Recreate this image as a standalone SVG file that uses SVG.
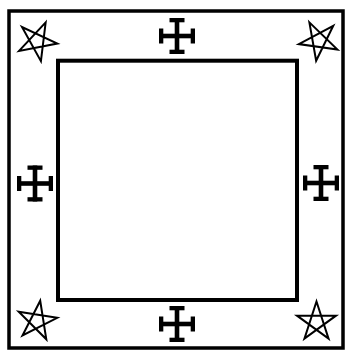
<svg xmlns="http://www.w3.org/2000/svg" xmlns:xlink="http://www.w3.org/1999/xlink" width="346" height="350" viewBox="0 0 346 350">
<style>
.frame{fill:none;stroke:#000;}
.star{fill:none;stroke:#000;stroke-width:2;stroke-linejoin:miter;}
.cross{fill:#000;}
</style>
<defs>
<path id="star" class="star" d="M0,-20.5 L12.05,16.58 L-19.5,-6.33 L19.5,-6.33 L-12.05,16.58 Z"/>
<g id="cross" class="cross">
<rect x="-2.3" y="-18" width="4.6" height="36"/>
<rect x="-18" y="-2.3" width="36" height="4.6"/>
<rect x="-7.5" y="-18" width="15" height="4.3"/>
<rect x="-7.5" y="13.7" width="15" height="4.3"/>
<rect x="-18" y="-7.5" width="4.3" height="15"/>
<rect x="13.7" y="-7.5" width="4.3" height="15"/>
</g>
</defs>
<rect width="346" height="350" fill="#fff"/>
<g id="outer-frame"><rect class="frame" x="9" y="11" width="334" height="337" stroke-width="3.5"/></g>
<g id="inner-frame"><rect class="frame" x="58" y="60.7" width="239" height="239.3" stroke-width="4"/></g>
<g id="star-tl"><use xlink:href="#star" transform="translate(37,41) rotate(25)"/></g>
<g id="star-tr"><use xlink:href="#star" transform="translate(319,40.5) rotate(-28)"/></g>
<g id="star-bl"><use xlink:href="#star" transform="translate(37,321) rotate(9)"/></g>
<g id="star-br"><use xlink:href="#star" transform="translate(316.5,322) rotate(0)"/></g>
<g id="cross-top"><use xlink:href="#cross" transform="translate(177,36)"/></g>
<g id="cross-left"><use xlink:href="#cross" transform="translate(35,183.5)"/></g>
<g id="cross-right"><use xlink:href="#cross" transform="translate(321,183)"/></g>
<g id="cross-bottom"><use xlink:href="#cross" transform="translate(177,324)"/></g>
<g id="connectors"></g>
</svg>
